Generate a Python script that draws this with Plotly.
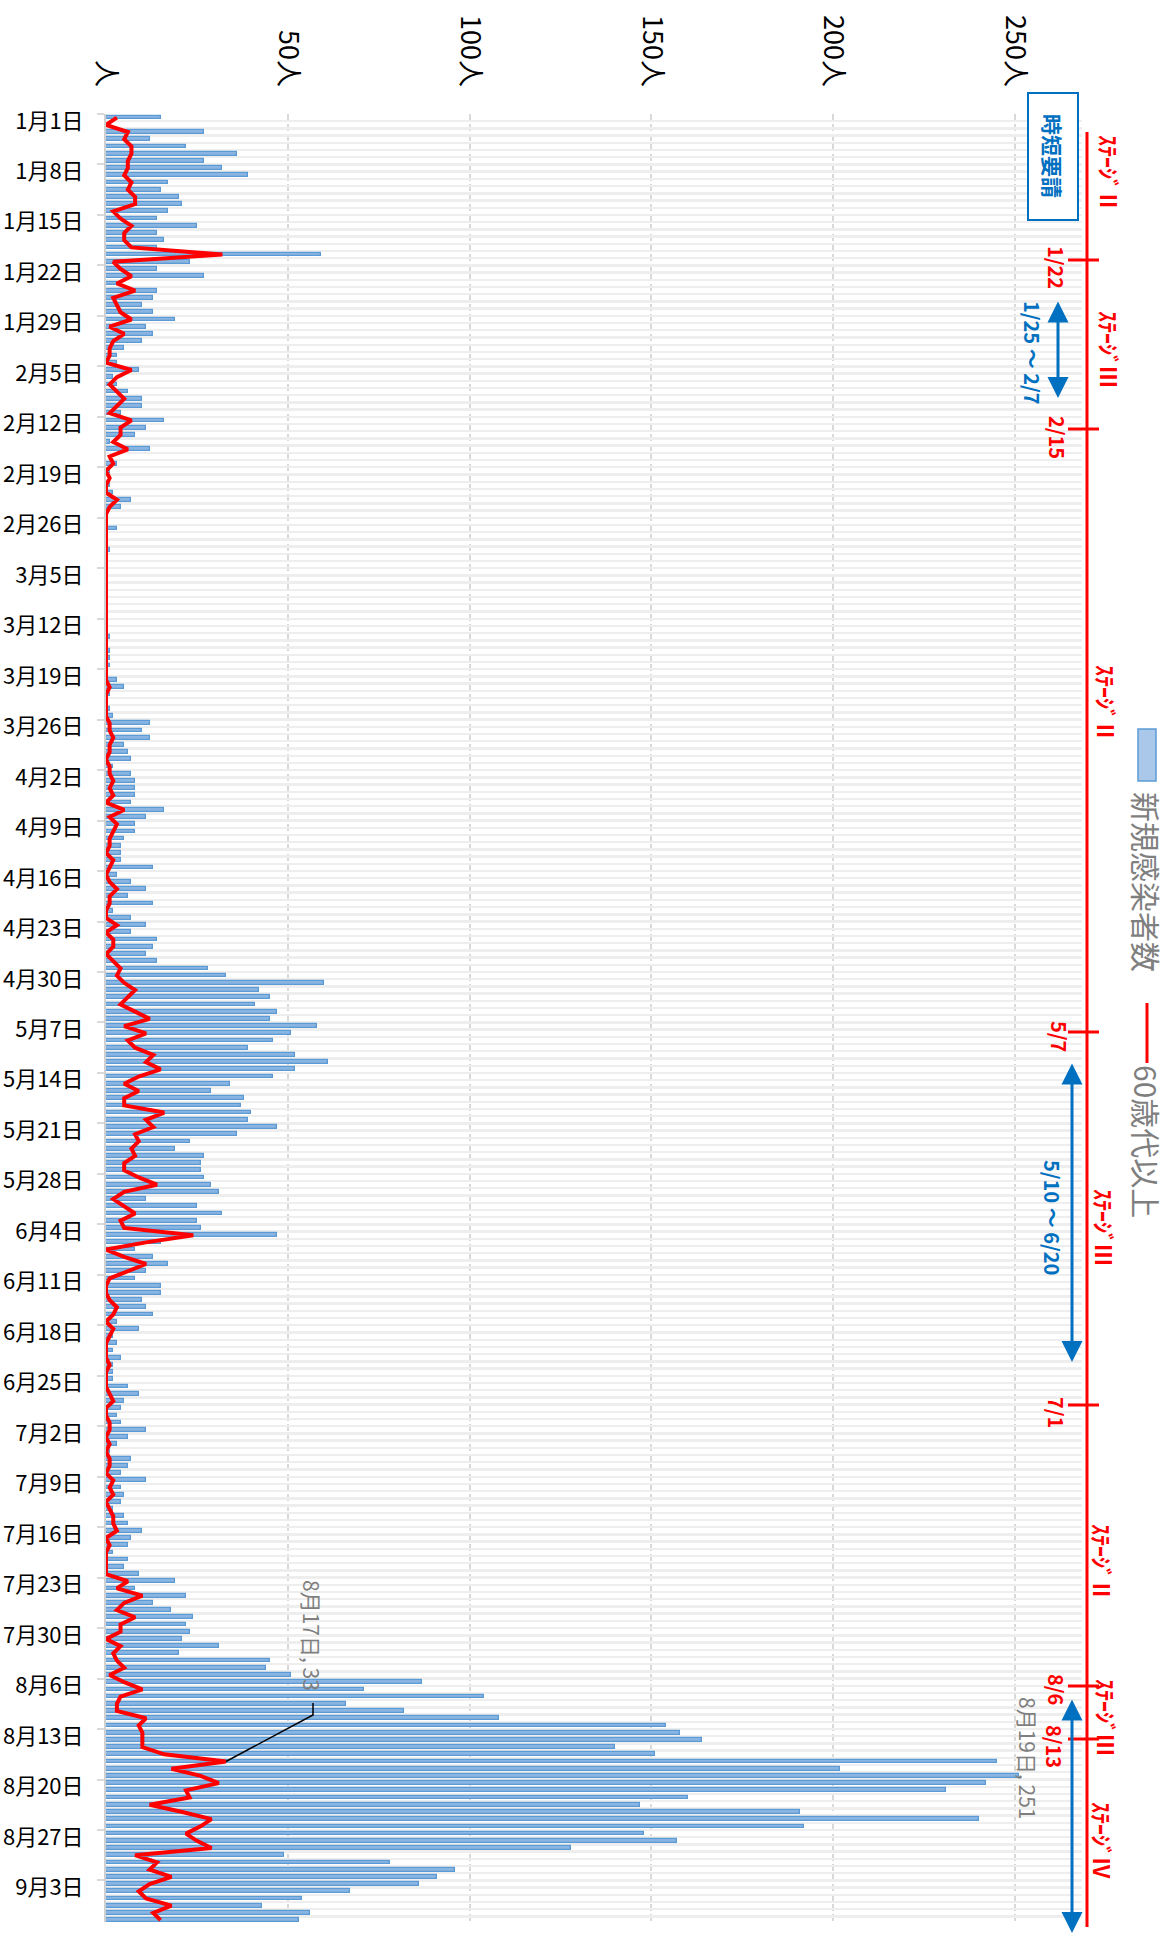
import datetime as dt
import plotly.graph_objects as go

# ---------------- data ----------------
# 新規感染者数 (daily new cases), 1/1 .. 9/8
new_jan = [15, 0, 27, 12, 22, 36, 27, 32, 39, 17, 15, 20, 21, 17, 14, 25, 14, 16, 14, 59,
           23, 14, 27, 3, 14, 13, 10, 13, 19, 11, 13]
new_feb = [10, 5, 3, 3, 9, 2, 3, 6, 10, 10, 4, 16, 11, 8, 1, 12, 0, 3, 1, 0,
           1, 2, 7, 4, 0, 0, 3, 0]
new_mar = [0, 1, 0, 0, 0, 0, 0, 0, 0, 0, 0, 0, 0, 1, 0, 1, 1, 1, 0, 3,
           5, 1, 0, 1, 2, 12, 10, 12, 5, 6, 7]
new_apr = [2, 7, 8, 8, 8, 7, 16, 11, 8, 8, 5, 4, 4, 4, 13, 3, 7, 11, 6, 13,
           2, 7, 11, 7, 14, 13, 11, 14, 28, 33]
new_may = [60, 42, 45, 41, 47, 45, 58, 51, 46, 39, 52, 61, 52, 46, 34, 29, 38, 37, 40, 39,
           47, 36, 23, 19, 27, 26, 26, 27, 29, 31, 11]
new_jun = [25, 32, 25, 26, 47, 15, 8, 13, 17, 11, 8, 15, 15, 10, 11, 13, 3, 9, 2, 3,
           2, 4, 2, 2, 2, 6, 9, 5, 4, 3]
new_jul = [4, 11, 6, 3, 1, 7, 6, 4, 11, 4, 5, 4, 2, 5, 6, 10, 7, 6, 2, 6,
           5, 9, 19, 8, 22, 13, 18, 24, 22, 23, 21]
new_aug = [31, 20, 45, 44, 51, 87, 71, 104, 66, 82, 108, 154, 158, 164, 140, 151, 245, 202, 251, 242,
           231, 160, 147, 191, 240, 192, 148, 157, 128, 49, 78]
new_sep = [96, 91, 86, 67, 54, 43, 56, 53]

# 60歳代以上 (aged 60+)
old_jan = [3, 0, 6, 5, 7, 7, 6, 6, 5, 7, 6, 8, 8, 2, 4, 7, 5, 5, 7, 32,
           2, 4, 7, 3, 8, 2, 3, 4, 7, 1, 5]
old_feb = [2, 1, 1, 0, 7, 3, 1, 3, 5, 3, 1, 7, 4, 4, 2, 6, 1, 2, 0, 1,
           0, 0, 3, 1, 0, 0, 0, 0]
old_mar = [0, 0, 0, 0, 0, 0, 0, 0, 0, 0, 0, 0, 0, 0, 0, 0, 0, 0, 0, 0,
           1, 0, 0, 0, 0, 1, 1, 2, 1, 1, 0]
old_apr = [1, 1, 2, 1, 2, 0, 5, 1, 3, 2, 1, 1, 0, 2, 1, 0, 1, 3, 1, 1,
           0, 0, 3, 0, 2, 2, 0, 2, 4, 3]
old_may = [5, 8, 6, 4, 8, 12, 5, 11, 6, 8, 13, 11, 15, 9, 5, 9, 5, 5, 16, 11,
           13, 8, 9, 7, 8, 5, 5, 9, 14, 5, 2]
old_jun = [5, 8, 4, 5, 24, 11, 0, 5, 11, 6, 1, 0, 0, 1, 3, 2, 0, 2, 1, 0,
           0, 0, 1, 0, 0, 0, 1, 2, 0, 0]
old_jul = [1, 1, 0, 1, 0, 1, 1, 0, 2, 1, 2, 0, 1, 2, 2, 3, 0, 1, 0, 0,
           0, 0, 6, 3, 10, 5, 3, 8, 4, 4, 0]
old_aug = [4, 2, 3, 5, 1, 5, 10, 4, 3, 3, 11, 9, 10, 10, 10, 16, 33, 18, 26, 31,
           22, 23, 12, 21, 29, 26, 22, 25, 29, 8, 14]
old_sep = [12, 18, 12, 9, 11, 18, 13, 15]

new_cases = new_jan + new_feb + new_mar + new_apr + new_may + new_jun + new_jul + new_aug + new_sep
senior = old_jan + old_feb + old_mar + old_apr + old_may + old_jun + old_jul + old_aug + old_sep

start_date = dt.date(2021, 1, 1)
N = len(new_cases)
dates = [start_date + dt.timedelta(days=i) for i in range(N)]
categories = [f"{d.month}月{d.day}日" for d in dates]
idx = list(range(N))

value_ticks = [0, 50, 100, 150, 200, 250]
value_ticktext = ["人", "50人", "100人", "150人", "200人", "250人"]
band_value = 268.5          # light grey background band of each row

# ---------------- layout geometry ----------------
FONT = "Noto Sans CJK JP"
FIG_W, FIG_H = 1171, 1939
L, T, B = 106, 114, 17
H = FIG_H - T - B
ROW = 7.21                  # px per day
SX = 3.636                  # px per person
XMAX = (FIG_W - L) / SX
YMAX = -0.5 + H / ROW


def PX(px):
    return (px - L) / SX


def PY(py):
    return 1 - (py - T) / H


def ROWY(py):
    return (py - T) / ROW - 0.5


RED = "#FF0000"
BLUE = "#0070C0"
GREY_TXT = "#7F7F7F"

fig = go.Figure()
fig.add_trace(go.Bar(x=[band_value] * N, y=[i + 0.5 for i in idx], orientation="h", width=0.33,
                     marker=dict(color="#EEEEEE", line=dict(width=0)), hoverinfo="skip",
                     showlegend=False))
fig.add_trace(go.Bar(x=new_cases, y=idx, orientation="h", width=0.52, name="新規感染者数",
                     marker=dict(color="#8AB4E1", line=dict(color="#5B9BD5", width=1.3)),
                     customdata=categories, hovertemplate="%{customdata}: %{x}<extra></extra>",
                     showlegend=False))
fig.add_trace(go.Scatter(x=senior, y=idx, mode="lines", name="60歳代以上",
                         line=dict(color=RED, width=4),
                         customdata=categories, hovertemplate="%{customdata}: %{x}<extra></extra>",
                         showlegend=False))

shapes = []
annotations = []


def rot_text(text, px, py, size, color, bold=False):
    annotations.append(dict(text=f"<b>{text}</b>" if bold else text, x=PX(px), y=PY(py),
                            xref="x", yref="paper", textangle=90, showarrow=False,
                            xanchor="center", yanchor="middle",
                            font=dict(size=size, color=color, family=FONT)))


def arrow(px, py0, py1):
    annotations.append(dict(text="", x=PX(px), y=PY(py1), xref="x", yref="paper",
                            ax=0, ay=py0 - py1, axref="pixel", ayref="pixel",
                            showarrow=True, arrowhead=2, arrowside="end+start",
                            arrowsize=1.4, arrowwidth=3, arrowcolor=BLUE,
                            standoff=0, startstandoff=0))


# stage line
shapes.append(dict(type="line", xref="x", yref="paper", x0=PX(1087), x1=PX(1087),
                   y0=PY(132), y1=PY(1927), line=dict(color=RED, width=3)))
stage_changes = [("1/22", 260, 1057, 267), ("2/15", 429, 1058, 437), ("5/7", 1032, 1060, 1036),
                 ("7/1", 1405, 1057, 1412), ("8/6", 1686, 1057, 1689), ("8/13", 1739, 1055, 1746)]
for lab, ty, lx, ly in stage_changes:
    shapes.append(dict(type="line", xref="x", yref="paper", x0=PX(1068), x1=PX(1099),
                       y0=PY(ty), y1=PY(ty), line=dict(color=RED, width=3)))
    rot_text(lab, lx, ly, 20, RED, bold=True)

stage_names = [("ｽﾃｰｼﾞⅡ", 1110, 173), ("ｽﾃｰｼﾞⅢ", 1110, 349), ("ｽﾃｰｼﾞⅡ", 1107, 703),
               ("ｽﾃｰｼﾞⅢ", 1105, 1227), ("ｽﾃｰｼﾞⅡ", 1103, 1562), ("ｽﾃｰｼﾞⅢ", 1107, 1717),
               ("ｽﾃｰｼﾞⅣ", 1103, 1840)]
for lab, lx, ly in stage_names:
    rot_text(lab, lx, ly, 22, RED, bold=True)

# request periods (blue arrows)
arrow(1058, 300, 398)
arrow(1072, 1062, 1362)
arrow(1072, 1698, 1933)
rot_text("1/25 ～ 2/7", 1032, 353, 20, BLUE, bold=True)
rot_text("5/10 ～ 6/20", 1053, 1217, 20, BLUE, bold=True)

# 時短要請 box
shapes.append(dict(type="rect", xref="x", yref="paper", x0=PX(1028), x1=PX(1078),
                   y0=PY(93), y1=PY(220), line=dict(color=BLUE, width=2), fillcolor="white",
                   layer="above"))
rot_text("時短要請", 1053, 156, 21, BLUE, bold=True)

# legend
shapes.append(dict(type="rect", xref="x", yref="paper", x0=PX(1138), x1=PX(1156),
                   y0=PY(729), y1=PY(781), line=dict(color="#5B9BD5", width=1.5),
                   fillcolor="#A9C8EA"))
rot_text("新規感染者数", 1147, 882, 30, GREY_TXT)
shapes.append(dict(type="line", xref="x", yref="paper", x0=PX(1147), x1=PX(1147),
                   y0=PY(1003), y1=PY(1063), line=dict(color=RED, width=3)))
rot_text("60歳代以上", 1147, 1141, 30, GREY_TXT)

# data labels
peak_i = 228
rot_text(f"{dates[peak_i].month}月{dates[peak_i].day}日, {senior[peak_i]}", 312, 1635, 21, GREY_TXT)
shapes.append(dict(type="path", xref="x", yref="y",
                   path=f"M {PX(313)},{ROWY(1703)} L {PX(313)},{ROWY(1715)} L {senior[peak_i]},{peak_i}",
                   line=dict(color="black", width=1.5)))
max_i = max(idx, key=lambda i: new_cases[i])
rot_text(f"{dates[max_i].month}月{dates[max_i].day}日, {new_cases[max_i]}", 1028, 1758, 21, GREY_TXT)

fig.update_layout(
    width=FIG_W, height=FIG_H,
    margin=dict(l=L, r=0, t=T, b=B, pad=0),
    paper_bgcolor="white", plot_bgcolor="white",
    barmode="overlay", bargap=0,
    showlegend=False,
    shapes=shapes, annotations=annotations,
    font=dict(family=FONT, color="black"),
    xaxis=dict(side="top", range=[0, XMAX], tickmode="array", tickvals=value_ticks,
               ticktext=value_ticktext, tickangle=90,
               tickfont=dict(size=27, color="black", family=FONT),
               showgrid=True, gridcolor="#D9D9D9", griddash="7px,3px", gridwidth=1.5,
               zeroline=False, showline=False, ticks="", ticklabelstandoff=22,
               automargin=False, fixedrange=True),
    yaxis=dict(range=[YMAX, -0.5], tickmode="array",
               tickvals=[i + 0.45 for i in idx[::7]], ticktext=categories[::7],
               tickfont=dict(size=22, color="black", family=FONT),
               showgrid=False, zeroline=False, showline=True, linecolor="#D0D0D0", linewidth=2,
               ticks="", ticklabelstandoff=16,
               minor=dict(tickmode="array", tickvals=[i - 0.5 for i in idx[::7]], ticks="outside",
                          ticklen=7, tickwidth=2, tickcolor="#D9D9D9", showgrid=False),
               automargin=False, fixedrange=True),
)

fig.write_html("out.html", config={"displayModeBar": False},
               post_script="document.body.style.margin='0px';")
